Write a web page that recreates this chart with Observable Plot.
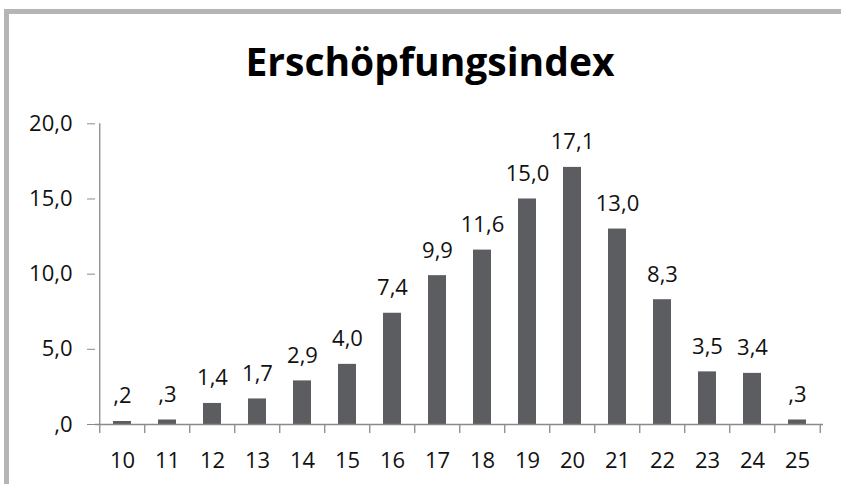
<!DOCTYPE html>
<html><head><meta charset="utf-8">
<script src="https://cdn.jsdelivr.net/npm/d3@7"></script>
<script src="https://cdn.jsdelivr.net/npm/@observablehq/plot@0.6"></script>
<style>
html,body{margin:0;padding:0;background:#fff;}
#wrap{position:relative;width:841px;height:484px;overflow:hidden;background:#fff;}
#border{position:absolute;left:4px;top:9px;right:-20px;bottom:-20px;border-top:5px solid #b5b5b7;border-left:5px solid #b5b5b7;}
#title{position:absolute;left:0;top:41px;width:860px;text-align:center;font-family:"Open Sans",sans-serif;font-weight:bold;font-size:39px;line-height:1;color:#000;}
#chart{position:absolute;left:0;top:100px;}
</style>
</head><body>
<div id="wrap">
  <div id="border"></div>
  <div id="title">Erschöpfungsindex</div>
  <div id="chart"></div>
</div>
<script>
const title = "Erschöpfungsindex";
const categories = [10, 11, 12, 13, 14, 15, 16, 17, 18, 19, 20, 21, 22, 23, 24, 25];
const values = [0.2, 0.3, 1.4, 1.7, 2.9, 4.0, 7.4, 9.9, 11.6, 15.0, 17.1, 13.0, 8.3, 3.5, 3.4, 0.3];
const yTicks = [0, 5, 10, 15, 20];

const data = categories.map((c, i) => ({cat: c, val: values[i]}));
const fmt = v => v.toFixed(1).replace(".", ",").replace(/^0,/, ",");

const width = 841, height = 384;
const mL = 95, mR = 18;
const halfStep = (width - mL - mR) / categories.length / 2;
const axisColor = "#8a8a8a";

const chart = Plot.plot({
  width, height,
  marginTop: 23.3, marginBottom: 60, marginLeft: mL, marginRight: mR,
  style: {fontFamily: "'Open Sans', sans-serif", fontSize: "22px", color: "#000", background: "transparent"},
  x: {type: "band", domain: categories, paddingInner: 0.6, paddingOuter: 0.3, label: null, axis: null},
  y: {domain: [0, 20], label: null, axis: null},
  marks: [
    Plot.barY(data, {x: "cat", y: "val", fill: "#5c5d61"}),
    Plot.ruleY([0], {stroke: axisColor, strokeWidth: 1.3}),
    Plot.ruleX([categories[0]], {x: d => d, y1: 0, y2: 20, dx: -halfStep, stroke: axisColor, strokeWidth: 1.3}),
    Plot.ruleX(categories, {x: d => d, y1: 0, y2: 0, insetBottom: -9, dx: -halfStep, stroke: axisColor, strokeWidth: 1.3}),
    Plot.ruleX([categories[categories.length - 1]], {x: d => d, y1: 0, y2: 0, insetBottom: -9, dx: halfStep, stroke: axisColor, strokeWidth: 1.3}),
    Plot.axisX({tickSize: 0, tickPadding: 28, fill: "#111", label: null}),
    Plot.axisY(yTicks, {tickSize: 8, tickPadding: 15, tickFormat: fmt, stroke: axisColor, fill: "#111", label: null}),
    Plot.text(data, {x: "cat", y: "val", text: d => fmt(d.val), dy: -18, lineAnchor: "bottom", fill: "#111"})
  ]
});
document.getElementById("chart").appendChild(chart);
</script>
</body></html>
